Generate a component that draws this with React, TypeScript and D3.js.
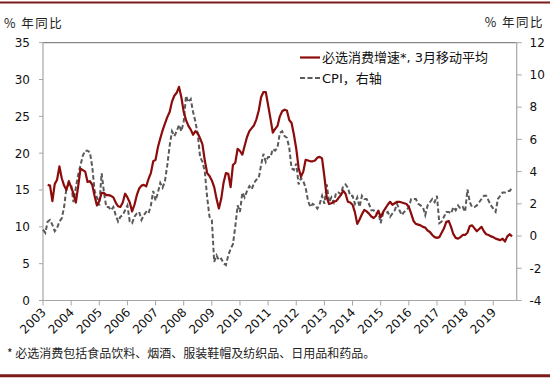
import React from "react";
import * as d3 from "d3";

const yearLabels = ["2003","2004","2005","2006","2007","2008","2009","2010","2011","2012","2013","2014","2015","2016","2017","2018","2019"];
const leftTicks = [0, 5, 10, 15, 20, 25, 30, 35];
const rightTicks = [-4, -2, 0, 2, 4, 6, 8, 10, 12];

// monthly, Jan 2003 .. Sep 2019
const essentialGrowth: (number | null)[] = [
  null, null, 15.7, 15.6, 13.5, 15.8, 16.4, 18.2, 16.6, 15.6, 15.0, 16.2,
  15.4, 14.5, 13.3, 15.5, 17.9, 17.7, 17.5, 16.1, 16.2, 15.7, 14.2, 12.9,
  13.5, 14.6, 14.6, 14.3, 14.3, 14.2, 14.0, 13.3, 12.8, 12.7, 13.3, 14.5,
  14.0, 13.3, 12.1, 13.0, 14.3, 15.2, 15.6, 15.7, 15.5, 16.5, 17.3, 18.9,
  19.1, 20.8, 22.0, 23.1, 24.0, 24.9, 25.6, 27.0, 27.8, 28.2, 29.0, 27.6,
  25.6, 24.5, 23.7, 23.2, 22.5, 23.0, 22.7, 22.0, 21.2, 19.0, 17.3, 16.9,
  16.3, 15.4, 13.8, 12.5, 13.8, 16.0, 17.3, 17.2, 15.4, 18.4, 18.7, 20.6,
  20.3, 19.8, 21.0, 22.2, 23.0, 23.4, 23.8, 24.6, 25.8, 27.6, 28.3, 28.3,
  26.5, 24.7, 22.8, 23.3, 23.7, 25.0, 25.7, 25.9, 25.8, 24.5, 24.1, 22.5,
  20.6, 18.0, 16.8, 17.5, 19.1, 19.0, 18.9, 18.9, 19.0, 19.4, 19.5, 19.3,
  16.8, 14.0, 13.1, 13.2, 13.4, 13.5, 13.9, 14.3, 14.9, 14.5, 13.4, 13.3,
  13.0, 12.0, 10.4, 11.0, 11.7, 12.3, 12.1, 11.8, 11.4, 11.2, 11.5, 12.2,
  11.3, 12.0, 12.5, 13.0, 13.4, 13.0, 13.2, 13.4, 13.4, 13.3, 13.2, 13.1,
  12.7, 11.8, 10.8, 10.4, 10.3, 10.2, 10.0, 9.9, 9.5, 9.3, 8.9, 8.6,
  8.5, 8.6, 9.2, 9.8, 10.7, 10.8, 10.0, 9.0, 8.5, 8.4, 8.6, 8.9,
  8.9, 9.2, 10.1, 10.2, 9.8, 9.4, 9.7, 10.0, 9.4, 9.0, 8.9, 8.7,
  8.6, 8.4, 8.3, 8.2, 8.4, 8.0, 8.7, 9.0, 8.7,
];

const cpi: number[] = [
  0.4, 0.2, 0.9, 1.0, 0.7, 0.3, 0.5, 0.9, 1.1, 1.8, 3.0, 3.2,
  3.2, 2.1, 3.0, 3.8, 4.4, 5.0, 5.3, 5.3, 5.2, 4.3, 2.8, 2.4,
  1.9, 3.9, 2.7, 1.8, 1.8, 1.6, 1.8, 1.3, 0.9, 1.2, 1.3, 1.6,
  1.9, 0.9, 0.8, 1.2, 1.4, 1.5, 1.0, 1.3, 1.5, 1.4, 1.9, 2.8,
  2.2, 2.7, 3.3, 3.0, 3.4, 4.4, 5.6, 6.5, 6.2, 6.5, 6.9, 6.5,
  7.1, 8.7, 8.3, 8.5, 7.7, 7.1, 6.3, 4.9, 4.6, 4.0, 2.4, 1.2,
  1.0, -1.6, -1.2, -1.5, -1.4, -1.7, -1.8, -1.2, -0.8, -0.5, 0.6, 1.9,
  1.5, 2.7, 2.4, 2.8, 3.1, 2.9, 3.3, 3.5, 3.6, 4.4, 5.1, 4.6,
  4.9, 4.9, 5.4, 5.3, 5.5, 6.4, 6.5, 6.2, 6.1, 5.5, 4.2, 4.1,
  4.5, 3.2, 3.6, 3.4, 3.0, 2.2, 1.8, 2.0, 1.9, 1.7, 2.0, 2.5,
  2.0, 3.2, 2.1, 2.4, 2.1, 2.7, 2.7, 2.6, 3.1, 3.2, 3.0, 2.5,
  2.5, 2.0, 2.4, 1.8, 2.5, 2.3, 2.3, 2.0, 1.6, 1.6, 1.4, 1.5,
  0.8, 1.4, 1.4, 1.5, 1.2, 1.4, 1.6, 2.0, 1.6, 1.3, 1.5, 1.6,
  1.8, 2.3, 2.3, 2.3, 2.0, 1.9, 1.8, 1.3, 1.9, 2.1, 2.3, 2.1,
  2.5, 0.8, 0.9, 1.2, 1.5, 1.5, 1.4, 1.8, 1.6, 1.9, 1.7, 1.8,
  1.5, 2.9, 2.1, 1.8, 1.8, 1.9, 2.1, 2.3, 2.5, 2.5, 2.2, 1.9,
  1.7, 1.5, 2.3, 2.5, 2.7, 2.7, 2.8, 2.8, 3.0,
];

const legendRed = "必选消费增速*, 3月移动平均";
const legendCpi = "CPI，右轴";
const axisTitle = "% 年同比";
const footnote = "* 必选消费包括食品饮料、烟酒、服装鞋帽及纺织品、日用品和药品。";

const W = 550, H = 379;
const L = 43, R = 516.7, T = 42.7, B = 300.5;
const RED = "#8c0b0b";
const GRAY = "#5a5a5a";
const AXIS = "#a6a6a6";
const FONT = "'DejaVu Sans', 'Noto Sans CJK SC', sans-serif";
const CJK = "'Noto Sans CJK SC', sans-serif";

export default function App() {
  const x = d3.scaleLinear().domain([0, 202]).range([L, R]);
  const yL = d3.scaleLinear().domain([0, 35]).range([B, T]);
  const yR = d3.scaleLinear().domain([-4, 12]).range([B, T]);

  const redLine = d3.line<number | null>()
    .defined((d) => d !== null)
    .x((_, i) => x(i))
    .y((d) => yL(d as number))
    .curve(d3.curveLinear);
  const cpiLine = d3.line<number>()
    .x((_, i) => x(i))
    .y((d) => yR(d));

  return (
    <svg width={W} height={H} style={{ position: "absolute", left: 0, top: 0, background: "#fff" }}>
      <rect x={0} y={0} width={W} height={H} fill="#fff" />
      <line x1={0} x2={W} y1={2.5} y2={2.5} stroke="#7d1a1a" strokeWidth={2} />
      <line x1={0} x2={W} y1={375.8} y2={375.8} stroke="#7d1a1a" strokeWidth={3} />

      <text x={4} y={28} fontFamily={CJK} fontSize={12.5} letterSpacing={1.5} fill="#222">{axisTitle}</text>
      <text x={544} y={27} fontFamily={CJK} fontSize={12.5} letterSpacing={1.5} fill="#222" textAnchor="end">{axisTitle}</text>

      {/* plot frame */}
      <line x1={L} x2={R} y1={T} y2={T} stroke="#6a6a6a" strokeWidth={1} />
      <line x1={L} x2={L} y1={T} y2={B} stroke={AXIS} strokeWidth={1.2} />
      <line x1={R} x2={R} y1={T} y2={B} stroke={AXIS} strokeWidth={1.2} />
      <line x1={L} x2={R} y1={B} y2={B} stroke={AXIS} strokeWidth={1.2} />

      {leftTicks.map((t) => (
        <g key={"l" + t}>
          <line x1={L - 4} x2={L} y1={yL(t)} y2={yL(t)} stroke={AXIS} />
          <text x={30} y={yL(t)} dy="0.36em" textAnchor="end" fontFamily={FONT} fontSize={12} fill="#111">{t}</text>
        </g>
      ))}
      {rightTicks.map((t) => (
        <g key={"r" + t}>
          <line x1={R} x2={R + 5} y1={yR(t)} y2={yR(t)} stroke={AXIS} />
          <text x={529.5} y={yR(t)} dy="0.36em" fontFamily={FONT} fontSize={12} fill="#111">{t}</text>
        </g>
      ))}
      {yearLabels.map((lab, k) => {
        const xi = x(k * 12);
        return (
          <g key={lab}>
            <line x1={xi} x2={xi} y1={B} y2={B + 5} stroke={AXIS} />
            <text transform={`translate(${xi + 3.7},${313}) rotate(-45)`} textAnchor="end" fontFamily={FONT} fontSize={12} fill="#111">{lab}</text>
          </g>
        );
      })}

      <path d={cpiLine(cpi) || ""} fill="none" stroke={GRAY} strokeWidth={2} strokeDasharray="4.5,2.5" />
      <path d={redLine(essentialGrowth) || ""} fill="none" stroke={RED} strokeWidth={2.2} strokeLinejoin="round" />

      {/* legend */}
      <line x1={300} x2={320} y1={57.5} y2={57.5} stroke={RED} strokeWidth={2.2} />
      <text x={322} y={62} fontFamily={FONT} fontSize={13} fill="#111">{legendRed}</text>
      <line x1={300} x2={320} y1={78} y2={78} stroke={GRAY} strokeWidth={2} strokeDasharray="5,2.5" />
      <text x={322} y={83} fontFamily={FONT} fontSize={13} fill="#111">{legendCpi}</text>

      <text x={7} y={358} fontFamily={CJK} fontSize={12} fill="#222">{footnote}</text>
    </svg>
  );
}
